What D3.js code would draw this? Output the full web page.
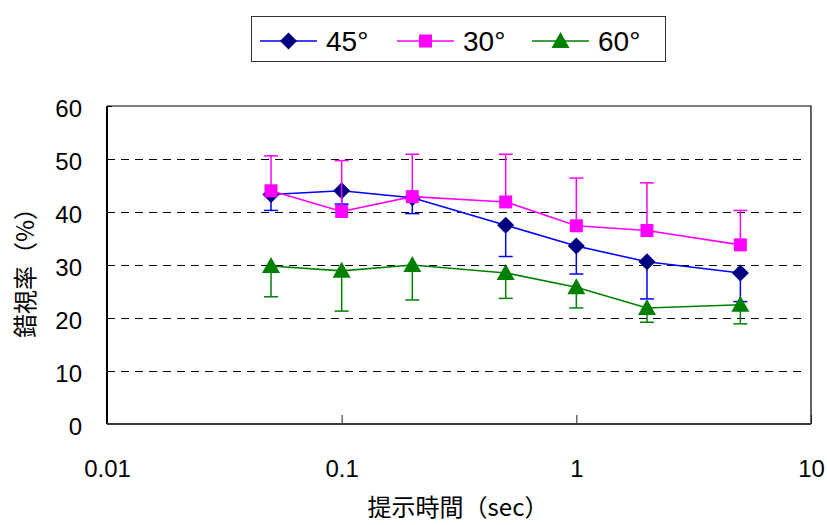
<!DOCTYPE html>
<html>
<head>
<meta charset="utf-8">
<script src="https://cdn.jsdelivr.net/npm/d3@7"></script>
<style>
  body { margin: 0; background: #fff; }
  svg { display: block; font-family: "Liberation Sans", Arial, sans-serif; }
  .jp { font-family: "Noto Sans CJK JP", sans-serif; }
</style>
</head>
<body>
<svg id="chart" width="827" height="525"></svg>
<script>
// presentation time (sec)
const times = [0.05, 0.1, 0.2, 0.5, 1, 2, 5];

// illusion rate (%) per angle, with the error bar length
const rate45 = [43.3, 44.0, 42.7, 37.5, 33.6, 30.6, 28.5];
const err45  = [3.0, 2.5, 3.0, 5.9, 5.3, 7.0, 5.4];     // drawn downwards
const rate30 = [44.0, 40.1, 42.9, 41.9, 37.4, 36.5, 33.8];
const err30  = [6.6, 9.6, 8.0, 9.0, 9.0, 9.0, 6.5];     // drawn upwards
const rate60 = [29.8, 28.9, 30.0, 28.5, 25.8, 21.9, 22.5];
const err60  = [5.8, 7.6, 6.6, 4.8, 3.9, 2.7, 3.6];     // drawn downwards

const xTicks = [0.01, 0.1, 1, 10];
const xTickLabels = ['0.01', '0.1', '1', '10'];
const yTicks = [0, 10, 20, 30, 40, 50, 60];
const gridTicks = [10, 20, 30, 40, 50];

const series = [
    { name: '45°', values: rate45, errs: err45, dir: -1, line: '#0000ff', fill: '#000080', bar: '#0000ff', shape: 'diamond' },
    { name: '30°', values: rate30, errs: err30, dir: 1, line: '#ff00ff', fill: '#ff00ff', bar: '#ff00ff', shape: 'square' },
    { name: '60°', values: rate60, errs: err60, dir: -1, line: '#008000', fill: '#008000', bar: '#008000', shape: 'triangle' }
];

const svg = d3.select('#chart');
const plot = { left: 107, right: 811, top: 106, bottom: 424 };

const x = d3.scaleLog().domain([0.01, 10]).range([plot.left, plot.right]);
const y = d3.scaleLinear().domain([0, 60]).range([plot.bottom, plot.top]);

function markerPath(shape) {
    if (shape === 'diamond') return 'M0,-8.5L8.5,0L0,8.5L-8.5,0Z';
    if (shape === 'square') return 'M-6.5,-6.5H6.5V6.5H-6.5Z';
    return 'M0,-9L9,7L-9,7Z';
}

// gridlines
svg.append('g')
    .selectAll('line')
    .data(gridTicks)
    .join('line')
    .attr('x1', plot.left)
    .attr('x2', plot.right - 4)
    .attr('y1', d => Math.round(y(d)) + 0.5)
    .attr('y2', d => Math.round(y(d)) + 0.5)
    .attr('stroke', '#000')
    .attr('stroke-width', 1)
    .attr('shape-rendering', 'crispEdges')
    .attr('stroke-dasharray', '8,6');

// frame (top, right)
svg.append('path')
    .attr('d', `M${plot.left},${plot.top}H${plot.right}V${plot.bottom}`)
    .attr('fill', 'none')
    .attr('stroke', '#000')
    .attr('stroke-width', 1.2);

// x axis
const xAxis = svg.append('g')
    .attr('transform', `translate(0,${plot.bottom})`)
    .call(d3.axisBottom(x)
        .tickValues(xTicks)
        .tickFormat((d, i) => xTickLabels[i])
        .tickSizeInner(-9)
        .tickSizeOuter(0)
        .tickPadding(36));
xAxis.select('.domain').remove();
xAxis.selectAll('line').attr('stroke', '#222');
xAxis.selectAll('text')
    .attr('font-size', 24)
    .attr('fill', '#000')
    .attr('font-family', '"Liberation Sans", Arial, sans-serif');

// y axis
const yAxis = svg.append('g')
    .attr('transform', `translate(${plot.left},0)`)
    .call(d3.axisLeft(y)
        .tickValues(yTicks)
        .tickSizeInner(-5)
        .tickSizeOuter(0)
        .tickPadding(25));
yAxis.select('.domain').remove();
yAxis.selectAll('line').attr('stroke', '#000');
yAxis.selectAll('text')
    .attr('font-size', 24)
    .attr('dy', '0.45em')
    .attr('fill', '#000')
    .attr('font-family', '"Liberation Sans", Arial, sans-serif');

// left and bottom axis lines
svg.append('line')
    .attr('x1', plot.left).attr('x2', plot.left)
    .attr('y1', plot.top).attr('y2', plot.bottom)
    .attr('stroke', '#000').attr('stroke-width', 2);
svg.append('line')
    .attr('x1', plot.left).attr('x2', plot.right)
    .attr('y1', plot.bottom).attr('y2', plot.bottom)
    .attr('stroke', '#3a3a3a').attr('stroke-width', 2.2);

// series
const lineGen = d3.line()
    .x((d, i) => x(times[i]))
    .y(d => y(d));

series.forEach(s => {
    const g = svg.append('g');
    const pts = s.values.map((v, i) => ({ t: times[i], v: v, e: s.errs[i] }));

    // error bars
    const eb = g.append('g').selectAll('g').data(pts).join('g');
    eb.append('line')
        .attr('x1', d => x(d.t)).attr('x2', d => x(d.t))
        .attr('y1', d => y(d.v)).attr('y2', d => y(d.v + s.dir * d.e))
        .attr('stroke', s.bar).attr('stroke-width', 1.5);
    eb.append('line')
        .attr('x1', d => x(d.t) - 7).attr('x2', d => x(d.t) + 7)
        .attr('y1', d => y(d.v + s.dir * d.e)).attr('y2', d => y(d.v + s.dir * d.e))
        .attr('stroke', s.bar).attr('stroke-width', 1.5);

    g.append('path')
        .datum(s.values)
        .attr('d', lineGen)
        .attr('fill', 'none')
        .attr('stroke', s.line)
        .attr('stroke-width', 1.6);

    g.append('g').selectAll('path').data(pts).join('path')
        .attr('transform', d => `translate(${x(d.t)},${y(d.v)})`)
        .attr('d', markerPath(s.shape))
        .attr('fill', s.fill);
});

// axis titles
svg.append('text')
    .attr('class', 'jp')
    .attr('x', 458).attr('y', 516)
    .attr('text-anchor', 'middle')
    .attr('font-size', 24)
    .text('提示時間（sec）');

svg.append('text')
    .attr('class', 'jp')
    .attr('transform', 'translate(34,267) rotate(-90)')
    .attr('text-anchor', 'middle')
    .attr('font-size', 24)
    .text('錯視率（%）');

// legend
const legend = svg.append('g');
legend.append('rect')
    .attr('x', 251.5).attr('y', 16.5)
    .attr('width', 414).attr('height', 45)
    .attr('fill', '#fff')
    .attr('stroke', '#333').attr('stroke-width', 1);

const legendX = [260, 397, 532];
series.forEach((s, i) => {
    const lx = legendX[i];
    const item = legend.append('g').attr('transform', `translate(${lx},41)`);
    item.append('line')
        .attr('x1', 0).attr('x2', 57).attr('y1', 0).attr('y2', 0)
        .attr('stroke', s.line).attr('stroke-width', 1.6);
    item.append('path')
        .attr('transform', 'translate(28.5,0)')
        .attr('d', markerPath(s.shape))
        .attr('fill', s.fill);
    item.append('text')
        .attr('x', 66).attr('y', 10)
        .attr('font-size', 28)
        .text(s.name);
});
</script>
</body>
</html>
